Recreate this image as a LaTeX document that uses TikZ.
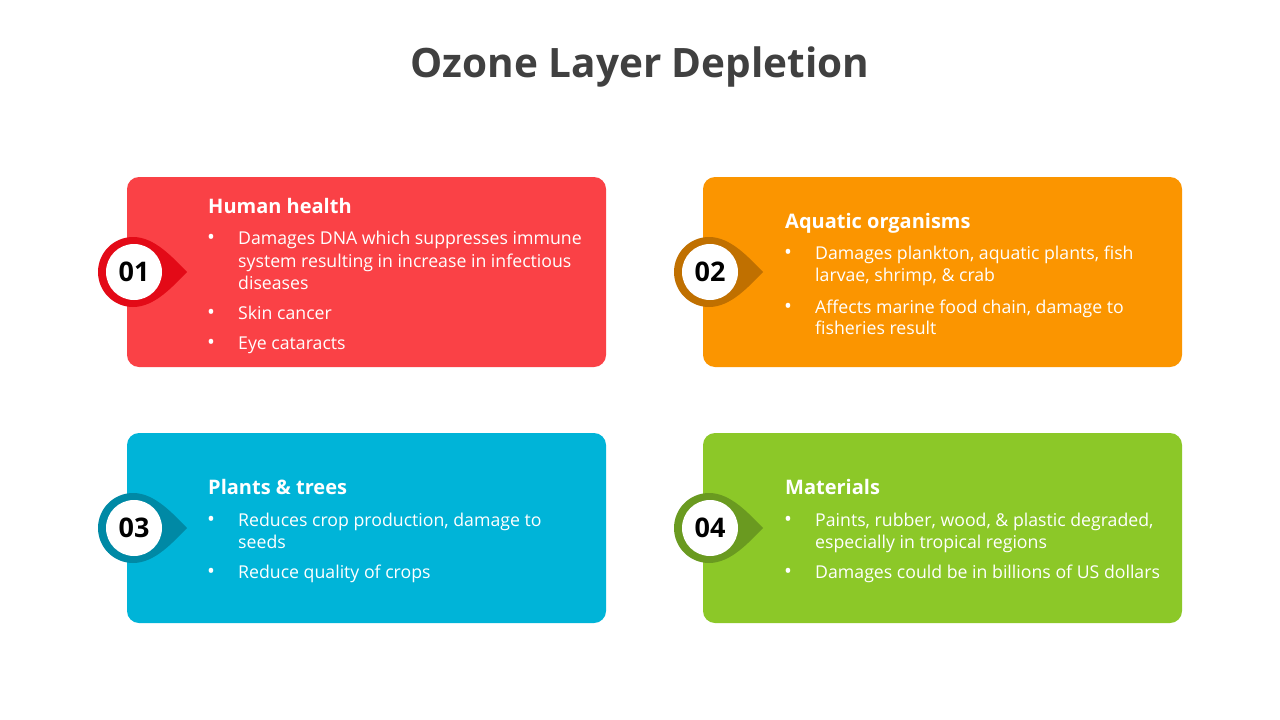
\documentclass[tikz,border=0pt]{standalone}
\usepackage{fontspec}
\setmainfont{Open Sans}
\definecolor{titlegray}{HTML}{404040}
\definecolor{boxred}{HTML}{FA4146}
\definecolor{mkred}{HTML}{E30A17}
\definecolor{boxorange}{HTML}{FB9500}
\definecolor{mkorange}{HTML}{C07000}
\definecolor{boxblue}{HTML}{00B4D8}
\definecolor{mkblue}{HTML}{0089A5}
\definecolor{boxgreen}{HTML}{8CC828}
\definecolor{mkgreen}{HTML}{6A9A20}
\tikzset{
  card/.style={rounded corners=12pt},
  head/.style={anchor=base west, inner sep=0pt, text=white, font=\fontsize{20}{24}\selectfont\bfseries},
  txt/.style={anchor=base west, inner sep=0pt, text=white, font=\fontsize{17.7}{22}\selectfont},
  bul/.style={anchor=base, inner sep=0pt, text=white, font=\fontsize{21}{24}\selectfont},
  num/.style={circle, fill=white, minimum size=56pt, inner sep=0pt, text=black, font=\fontsize{27}{30}\selectfont\bfseries},
}
\newcommand{\dropmark}[5]{%
  \fill[#3] (#1+54,#2) .. controls (#1+40,#2-14) and (#1+22,#2-35) .. (#1,#2-35)
    arc[start angle=270, end angle=90, radius=35]
    .. controls (#1+22,#2+35) and (#1+40,#2+14) .. (#1+54,#2) -- cycle;
  \node[num] (#5) at (#1+1,#2) {#4};
}
\begin{document}
\begin{tikzpicture}[x=1pt,y=-1pt]
\useasboundingbox[fill=white] (0,0) rectangle (1280,720);
\node[text=titlegray, font=\fontsize{40.5}{46}\selectfont\bfseries, anchor=base, inner sep=0pt] (title) at (640,77) {Ozone Layer Depletion};

% cards
\fill[boxred, card] (127,177) rectangle (606,367);
\fill[boxorange, card] (703,177) rectangle (1182,367);
\fill[boxblue, card] (127,433) rectangle (606,623);
\fill[boxgreen, card] (703,433) rectangle (1182,623);

% markers
\dropmark{133}{272}{mkred}{01}{n1}
\dropmark{709}{272}{mkorange}{02}{n2}
\dropmark{133}{528}{mkblue}{03}{n3}
\dropmark{709}{528}{mkgreen}{04}{n4}

% card 1
\node[head] (h1) at (208,213) {Human health};
\node[bul] (b11) at (211,244) {•};
\node[txt] (t11a) at (238,244) {Damages DNA which suppresses immune};
\node[txt] (t11b) at (238,267) {system resulting in increase in infectious};
\node[txt] (t11c) at (238,289) {diseases};
\node[bul] (b12) at (211,319) {•};
\node[txt] (t12) at (238,319) {Skin cancer};
\node[bul] (b13) at (211,349) {•};
\node[txt] (t13) at (238,349) {Eye cataracts};

% card 2
\node[head] (h2) at (785,228) {Aquatic organisms};
\node[bul] (b21) at (788,259) {•};
\node[txt] (t21a) at (815,259) {Damages plankton, aquatic plants, fish};
\node[txt] (t21b) at (815,281) {larvae, shrimp, \& crab};
\node[bul] (b22) at (788,313) {•};
\node[txt] (t22a) at (815,313) {Affects marine food chain, damage to};
\node[txt] (t22b) at (815,334) {fisheries result};

% card 3
\node[head] (h3) at (208,494) {Plants \& trees};
\node[bul] (b31) at (211,526) {•};
\node[txt] (t31a) at (238,526) {Reduces crop production, damage to};
\node[txt] (t31b) at (238,548) {seeds};
\node[bul] (b32) at (211,578) {•};
\node[txt] (t32) at (238,578) {Reduce quality of crops};

% card 4
\node[head] (h4) at (785,494) {Materials};
\node[bul] (b41) at (788,526) {•};
\node[txt] (t41a) at (815,526) {Paints, rubber, wood, \& plastic degraded,};
\node[txt] (t41b) at (815,548) {especially in tropical regions};
\node[bul] (b42) at (788,578) {•};
\node[txt] (t42) at (815,578) {Damages could be in billions of US dollars};
\end{tikzpicture}
\end{document}
